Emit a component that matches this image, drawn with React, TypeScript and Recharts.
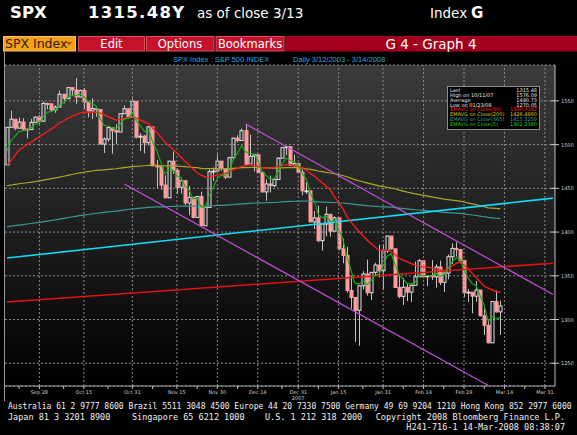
import React from "react";
import {
  ComposedChart,
  Bar,
  Line,
  XAxis,
  YAxis,
  CartesianGrid,
  ReferenceLine,
} from "recharts";

// trading days shown on the axis (last 13 are empty future slots)
const dates = [
  "9/18", "9/19", "9/20", "9/21", "9/24", "9/25", "9/26", "9/27", "9/28",
  "10/1", "10/2", "10/3", "10/4", "10/5", "10/8", "10/9", "10/10", "10/11", "10/12",
  "10/15", "10/16", "10/17", "10/18", "10/19", "10/22", "10/23", "10/24", "10/25", "10/26",
  "10/29", "10/30", "10/31",
  "11/1", "11/2", "11/5", "11/6", "11/7", "11/8", "11/9", "11/12", "11/13", "11/14", "11/15", "11/16",
  "11/19", "11/20", "11/21", "11/23", "11/26", "11/27", "11/28", "11/29", "11/30",
  "12/3", "12/4", "12/5", "12/6", "12/7", "12/10", "12/11", "12/12", "12/13", "12/14",
  "12/17", "12/18", "12/19", "12/20", "12/21", "12/24", "12/26", "12/27", "12/28", "12/31",
  "1/2", "1/3", "1/4", "1/7", "1/8", "1/9", "1/10", "1/11", "1/14", "1/15", "1/16", "1/17", "1/18",
  "1/22", "1/23", "1/24", "1/25", "1/28", "1/29", "1/30", "1/31",
  "2/1", "2/4", "2/5", "2/6", "2/7", "2/8", "2/11", "2/12", "2/13", "2/14", "2/15",
  "2/19", "2/20", "2/21", "2/22", "2/25", "2/26", "2/27", "2/28", "2/29",
  "3/3", "3/4", "3/5", "3/6", "3/7", "3/10", "3/11", "3/12", "3/13",
  "3/14", "3/17", "3/18", "3/19", "3/20", "3/24", "3/25", "3/26", "3/27", "3/28", "3/31", "4/1", "4/2",
];

const open = [
  1476.65, 1519.78, 1529.03, 1518.75, 1525.75, 1517.73, 1517.21, 1525.42, 1531.38,
  1526.75, 1547.04, 1546.63, 1539.59, 1542.84, 1557.59, 1552.58, 1565.15, 1562.47, 1554.41,
  1561.80, 1548.71, 1538.53, 1541.24, 1540.08, 1500.63, 1506.33, 1519.59, 1515.88, 1514.40,
  1535.28, 1540.98, 1531.02,
  1549.38, 1508.44, 1509.65, 1502.17, 1520.27, 1475.62, 1474.77, 1453.70, 1439.18, 1481.05, 1470.58, 1451.15,
  1458.74, 1433.27, 1439.70, 1416.77, 1440.70, 1407.22, 1428.23, 1469.02, 1469.72,
  1481.14, 1472.42, 1462.79, 1485.01, 1507.34, 1504.66, 1515.96, 1477.65, 1486.59, 1488.41,
  1467.95, 1445.90, 1454.98, 1453.00, 1460.12, 1484.46, 1496.45, 1497.66, 1476.27, 1478.49,
  1468.36, 1447.16, 1447.16, 1411.63, 1416.18, 1390.19, 1409.13, 1420.33, 1401.02, 1416.25, 1380.95, 1373.20, 1333.25,
  1325.19, 1310.50, 1338.60, 1352.07, 1330.61, 1353.96, 1362.30, 1355.81,
  1378.55, 1395.42, 1380.82, 1336.64, 1326.45, 1336.91, 1331.29, 1339.13, 1348.86, 1367.21, 1348.86,
  1349.99, 1348.78, 1360.03, 1342.53, 1353.11, 1371.80, 1381.29, 1380.02, 1367.68,
  1330.63, 1331.34, 1326.75, 1333.70, 1304.34, 1293.37, 1273.37, 1320.65, 1308.77,
];

const high = [
  1520.0, 1538.74, 1529.14, 1530.89, 1530.18, 1518.27, 1529.39, 1532.46, 1533.74,
  1549.02, 1548.01, 1544.8, 1544.78, 1561.91, 1557.59, 1565.26, 1565.42, 1576.09, 1563.03,
  1564.74, 1548.7, 1552.76, 1541.69, 1540.08, 1508.06, 1520.01, 1519.59, 1523.24, 1535.53,
  1544.67, 1540.98, 1552.76,
  1549.38, 1513.15, 1510.84, 1521.19, 1520.27, 1482.5, 1474.77, 1464.94, 1481.37, 1492.14, 1472.72, 1462.18,
  1458.74, 1452.64, 1439.7, 1440.86, 1446.09, 1429.49, 1471.61, 1473.85, 1488.94,
  1481.16, 1472.42, 1486.09, 1508.02, 1510.63, 1518.27, 1523.57, 1511.4, 1489.4, 1488.41,
  1467.95, 1460.16, 1464.42, 1461.19, 1485.4, 1497.32, 1498.85, 1497.66, 1488.3, 1478.49,
  1471.77, 1456.8, 1447.16, 1423.87, 1430.28, 1409.19, 1429.09, 1420.33, 1417.89, 1416.25, 1391.99, 1383.18, 1350.28,
  1322.09, 1339.09, 1355.15, 1368.56, 1353.97, 1364.93, 1385.62, 1385.86,
  1396.02, 1395.42, 1380.82, 1351.95, 1347.31, 1341.22, 1341.4, 1366.21, 1369.23, 1368.16, 1350.0,
  1367.94, 1363.16, 1367.4, 1354.74, 1374.36, 1387.34, 1388.34, 1380.02, 1367.68,
  1335.13, 1331.34, 1344.19, 1333.7, 1312.59, 1300.16, 1320.65, 1333.26, 1321.68,
];

const low = [
  1476.65, 1519.78, 1516.42, 1518.75, 1516.15, 1507.13, 1517.2, 1525.4, 1521.99,
  1526.75, 1540.37, 1537.63, 1536.34, 1542.84, 1547.2, 1551.82, 1555.46, 1546.72, 1554.09,
  1540.81, 1531.3, 1529.4, 1531.76, 1500.26, 1490.4, 1503.61, 1489.56, 1500.46, 1514.4,
  1535.28, 1529.6, 1531.0,
  1507.09, 1492.53, 1489.95, 1499.07, 1475.61, 1450.31, 1448.51, 1438.53, 1439.18, 1466.47, 1443.49, 1443.99,
  1430.54, 1419.28, 1415.46, 1416.77, 1406.1, 1407.22, 1428.23, 1458.36, 1469.72,
  1470.08, 1460.66, 1462.79, 1482.19, 1502.66, 1504.66, 1475.99, 1477.65, 1469.21, 1467.44,
  1445.07, 1435.65, 1445.31, 1451.41, 1460.12, 1484.46, 1488.2, 1475.99, 1473.29, 1467.99,
  1442.07, 1443.73, 1411.19, 1403.45, 1388.3, 1378.7, 1395.31, 1394.83, 1401.02, 1379.01, 1364.27, 1330.7, 1312.51,
  1274.29, 1270.05, 1334.31, 1327.5, 1322.26, 1350.3, 1348.12, 1334.08,
  1375.98, 1379.69, 1336.64, 1324.34, 1316.75, 1321.06, 1320.32, 1339.13, 1348.86, 1347.31, 1338.13,
  1345.2, 1336.55, 1339.34, 1331.5, 1346.03, 1363.29, 1372.0, 1364.27, 1325.42,
  1320.04, 1307.04, 1320.22, 1303.34, 1282.14, 1272.66, 1273.37, 1307.86, 1282.43,
];

const close = [
  1519.78, 1529.03, 1518.75, 1525.75, 1517.73, 1517.21, 1525.42, 1531.38, 1526.75,
  1547.04, 1546.63, 1539.59, 1542.84, 1557.59, 1552.58, 1565.15, 1562.47, 1554.41, 1561.80,
  1548.71, 1538.53, 1541.24, 1540.08, 1500.63, 1506.33, 1519.59, 1515.88, 1514.40, 1535.28,
  1540.98, 1531.02, 1549.38,
  1508.44, 1509.65, 1502.17, 1520.27, 1475.62, 1474.77, 1453.70, 1439.18, 1481.05, 1470.58, 1451.15, 1458.74,
  1433.27, 1439.70, 1416.77, 1440.70, 1407.22, 1428.23, 1469.02, 1469.72, 1481.14,
  1472.42, 1462.79, 1485.01, 1507.34, 1504.66, 1515.96, 1477.65, 1486.59, 1488.41, 1467.95,
  1445.90, 1454.98, 1453.00, 1460.12, 1484.46, 1496.45, 1497.66, 1476.27, 1478.49, 1468.36,
  1447.16, 1447.16, 1411.63, 1416.18, 1390.19, 1409.13, 1420.33, 1401.02, 1416.25, 1380.95, 1373.20, 1333.25, 1325.19,
  1310.50, 1338.60, 1352.07, 1330.61, 1353.96, 1362.30, 1355.81, 1378.55,
  1395.42, 1380.82, 1336.64, 1326.45, 1336.91, 1331.29, 1339.13, 1348.86, 1367.21, 1348.86, 1349.99,
  1348.78, 1360.03, 1342.53, 1353.11, 1371.80, 1381.29, 1380.02, 1367.68, 1330.63,
  1331.34, 1326.75, 1333.70, 1304.34, 1293.37, 1273.37, 1320.65, 1308.77, 1315.48,
];

const ema5 = [
  1493.0, 1505.0, 1509.6, 1515.0, 1515.9, 1516.3, 1519.3, 1523.3, 1524.5,
  1532.0, 1536.9, 1537.8, 1539.5, 1545.5, 1547.9, 1553.7, 1556.6, 1555.9, 1557.9,
  1554.8, 1549.4, 1546.7, 1544.5, 1529.9, 1522.0, 1521.2, 1519.4, 1517.7, 1523.6,
  1529.4, 1529.9, 1536.4,
  1527.1, 1521.3, 1514.9, 1516.7, 1503.0, 1493.6, 1480.3, 1466.6, 1471.4, 1471.1, 1464.4, 1462.5,
  1452.8, 1448.4, 1437.9, 1438.8, 1428.3, 1428.3, 1441.9, 1451.2, 1461.2,
  1464.9, 1464.2, 1471.1, 1483.2, 1490.4, 1498.9, 1491.8, 1490.1, 1489.5, 1482.3,
  1470.2, 1465.1, 1461.1, 1460.8, 1468.7, 1477.9, 1484.5, 1481.8, 1480.7, 1476.6,
  1466.8, 1460.3, 1444.1, 1434.8, 1419.9, 1416.3, 1417.6, 1412.1, 1413.5, 1402.6, 1392.8, 1372.9, 1357.0,
  1341.5, 1340.5, 1344.4, 1339.8, 1344.5, 1350.4, 1352.2, 1361.0,
  1372.5, 1375.3, 1362.4, 1350.4, 1345.9, 1341.0, 1340.4, 1343.2, 1351.2, 1350.4, 1350.3,
  1349.8, 1353.2, 1349.6, 1350.8, 1357.8, 1365.6, 1370.4, 1369.5, 1356.5,
  1348.1, 1341.0, 1338.6, 1327.2, 1315.9, 1298.0, 1303.0, 1301.0, 1302.3,
];

const ema30 = [
  1476, 1482, 1488, 1494, 1497, 1500, 1503, 1506, 1509,
  1512, 1515, 1518, 1521, 1525, 1527, 1530, 1532, 1534, 1536,
  1537, 1537, 1537, 1537, 1536, 1534, 1532, 1530, 1528, 1529,
  1530, 1531, 1532,
  1530, 1528, 1526, 1524, 1519, 1514, 1509, 1503, 1499, 1495, 1490, 1486,
  1481, 1477, 1472, 1468, 1465, 1463, 1463, 1464, 1465,
  1466, 1467, 1469, 1471, 1473, 1475, 1476, 1477, 1476, 1475,
  1474, 1473, 1473, 1474, 1475, 1476, 1477, 1477, 1476, 1475,
  1473, 1471, 1467, 1464, 1460, 1456, 1452, 1448, 1440, 1434, 1427, 1418, 1412,
  1406, 1401, 1396, 1391, 1387, 1383, 1379, 1379,
  1379, 1378, 1374, 1370, 1368, 1366, 1364, 1362, 1361, 1360, 1360,
  1359, 1358, 1357, 1356, 1358, 1361, 1364, 1366, 1362,
  1358, 1353, 1348, 1343, 1338, 1336, 1334, 1332, 1331,
];

const ema200 = [
  1453.0, 1453.8, 1454.5, 1455.2, 1455.8, 1456.4, 1457.1, 1457.8, 1458.5,
  1459.4, 1460.3, 1461.1, 1461.9, 1462.9, 1463.8, 1464.8, 1465.8, 1466.7, 1467.6,
  1468.4, 1469.1, 1469.8, 1470.5, 1470.8, 1471.2, 1471.6, 1472.0, 1472.4, 1473.0,
  1473.7, 1474.2, 1474.9,
  1475.2, 1475.5, 1475.8, 1476.2, 1476.2, 1476.2, 1476.0, 1475.6, 1475.7, 1475.6, 1475.4, 1475.2,
  1474.8, 1474.4, 1473.9, 1473.6, 1472.9, 1472.5, 1472.5, 1472.5, 1472.6,
  1472.6, 1472.5, 1472.6, 1472.9, 1473.2, 1473.6, 1473.7, 1473.8, 1474.0, 1473.9,
  1473.6, 1473.4, 1473.2, 1473.1, 1473.2, 1473.4, 1473.7, 1473.7, 1473.8, 1473.7,
  1473.0, 1472.4, 1471.6, 1470.8, 1469.8, 1469.0, 1468.3, 1467.5, 1466.8, 1465.8, 1464.7, 1463.2, 1461.6,
  1460.0, 1458.7, 1457.5, 1456.2, 1455.0, 1453.9, 1452.8, 1451.9,
  1451.2, 1450.4, 1449.2, 1447.9, 1446.8, 1445.6, 1444.6, 1443.6, 1442.9, 1442.0, 1441.1,
  1440.2, 1439.4, 1438.5, 1437.6, 1437.0, 1436.5, 1436.0, 1435.4, 1434.4,
  1433.4, 1432.3, 1431.3, 1430.1, 1428.9, 1427.5, 1427.4, 1427.0, 1426.5,
];

const ema365 = [
  1406.0, 1406.7, 1407.3, 1408.0, 1408.6, 1409.2, 1409.8, 1410.5, 1411.1,
  1411.9, 1412.6, 1413.3, 1414.0, 1414.8, 1415.6, 1416.4, 1417.2, 1417.9, 1418.7,
  1419.4, 1420.1, 1420.8, 1421.5, 1421.9, 1422.4, 1423.0, 1423.5, 1424.0, 1424.6,
  1425.3, 1425.8, 1426.4,
  1426.9, 1427.3, 1427.7, 1428.2, 1428.5, 1428.7, 1428.8, 1428.9, 1429.2, 1429.4, 1429.5, 1429.7,
  1429.7, 1429.8, 1429.7, 1429.8, 1429.7, 1429.7, 1429.9, 1430.1, 1430.4,
  1430.6, 1430.8, 1431.1, 1431.5, 1431.9, 1432.3, 1432.6, 1432.9, 1433.2, 1433.4,
  1433.4, 1433.5, 1433.6, 1433.8, 1434.1, 1434.4, 1434.8, 1435.0, 1435.2, 1435.4,
  1435.5, 1435.4, 1435.2, 1434.9, 1434.6, 1434.3, 1434.2, 1433.9, 1433.8, 1433.5, 1433.2, 1432.7, 1432.2,
  1431.6, 1431.1, 1430.7, 1430.2, 1429.8, 1429.4, 1429.0, 1428.8,
  1428.7, 1428.4, 1427.9, 1427.4, 1426.9, 1426.4, 1426.0, 1425.5, 1425.2, 1424.8, 1424.3,
  1423.9, 1423.5, 1423.0, 1422.6, 1422.3, 1422.0, 1421.7, 1421.3, 1420.7,
  1420.1, 1419.5, 1418.9, 1418.2, 1417.5, 1416.7, 1416.2, 1415.8, 1415.3,
];

// hand drawn trend lines (endpoints)
const cyanTrend = [{ d: "9/18", v: 1370.3 }, { d: "4/2", v: 1438.8 }];
const redTrend = [{ d: "9/18", v: 1320.0 }, { d: "4/2", v: 1364.4 }];
const upperChannel = [{ d: "12/11", v: 1523.6 }, { d: "4/2", v: 1328.6 }];
const lowerChannel = [{ d: "10/29", v: 1455.0 }, { d: "3/10", v: 1224.5 }];

const yTicks = [1250, 1300, 1350, 1400, 1450, 1500, 1550];
const majorDates = ["9/28", "10/15", "10/31", "11/15", "11/30", "12/14", "12/31", "1/15", "1/31", "2/14", "2/29", "3/14", "3/31"];
const majorLabels = ["Sep 28", "Oct 15", "Oct 31", "Nov 15", "Nov 30", "Dec 14", "Dec 31", "Jan 15", "Jan 31", "Feb 14", "Feb 29", "Mar 14", "Mar 31"];
const minorDates = ["9/21", "10/8", "10/23", "11/7", "11/23", "12/7", "12/24", "1/8", "1/24", "2/7", "2/22", "3/7", "3/24"];

const statLabels = [
  "Last",
  "High on 10/11/07",
  "Average",
  "Low on 01/23/08",
  "EMAVG on Close(30)",
  "EMAVG on Close(200)",
  "EMAVG on Close(365)",
  "EMAVG on Close(5)",
];
const statValues = ["1315.48", "1576.09", "1440.73", "1270.05", "1330.3382", "1426.4860", "1415.3259", "1302.3380"];
const statColors = ["#e6e6e6", "#e6e6e6", "#e6e6e6", "#e6e6e6", "#ff2020", "#d6d21c", "#3f9f9f", "#1fd21f"];

const footer1 = "Australia 61 2 9777 8600 Brazil 5511 3048 4500 Europe 44 20 7330 7500 Germany 49 69 9204 1210 Hong Kong 852 2977 6000";

const rows = dates.map((d, i) => ({
  d,
  o: open[i],
  h: high[i],
  l: low[i],
  c: close[i],
  e5: ema5[i],
  e30: ema30[i],
  e200: ema200[i],
  e365: ema365[i],
}));

const Candle = (props: any) => {
  const { x, y, width, height, payload } = props;
  if (!payload || payload.h == null) return null;
  const { o, h, l, c } = payload;
  const top = Math.min(y, y + height);
  const span = Math.abs(height);
  const k = h === l ? 0 : span / (h - l);
  const cx = Math.round(x + width / 2) + 0.5;
  const yo = top + (h - o) * k;
  const yc = top + (h - c) * k;
  const bTop = Math.min(yo, yc);
  const bBot = Math.max(yo, yc, bTop + 1);
  const up = c >= o;
  return (
    <g>
      <line x1={cx} x2={cx} y1={top} y2={bTop} stroke="#c4c4c4" strokeWidth={1} />
      <line x1={cx} x2={cx} y1={bBot} y2={top + span} stroke="#c4c4c4" strokeWidth={1} />
      <rect
        x={cx - 1.5}
        y={bTop}
        width={3}
        height={bBot - bTop}
        fill={up ? "none" : "#ff9c9c"}
        stroke={up ? "#e4e4e4" : "#ff9c9c"}
        strokeWidth={1}
      />
    </g>
  );
};

const XTick = (props: any) => {
  const { x, y, payload } = props;
  const i = majorDates.indexOf(payload.value);
  if (i < 0) {
    return <line x1={x} x2={x} y1={y} y2={y + 3} stroke="#bdbdbd" />;
  }
  return (
    <g>
      <line x1={x} x2={x} y1={y} y2={y + 3} stroke="#bdbdbd" />
      <text x={x} y={y + 8} textAnchor="middle" fontSize={5} fill="#d0d0d0" fontFamily="DejaVu Sans">
        {majorLabels[i]}
      </text>
      {payload.value === "12/31" && (
        <text x={x} y={y + 14} textAnchor="middle" fontSize={5} fill="#d0d0d0" fontFamily="DejaVu Sans">
          2007
        </text>
      )}
    </g>
  );
};

const YTick = (props: any) => {
  const { x, y, payload } = props;
  return (
    <g>
      <line x1={x - 10} x2={x - 2} y1={y} y2={y} stroke="#c8c8c8" />
      <text x={x} y={y + 2} fontSize={5} fill="#d0d0d0" fontFamily="DejaVu Sans">
        {payload.value}
      </text>
    </g>
  );
};

const grid = "#8a8a8a";

export default function App() {
  return (
    <div style={{ position: "absolute", left: 0, top: 0, width: 577, height: 435, background: "#000", overflow: "hidden" }}>
      <div
        style={{
          position: "absolute",
          left: 5,
          top: 65,
          width: 550,
          height: 321,
          background: "linear-gradient(#3b3b3b, #1c1c1c 55%, #000)",
        }}
      />
      <div style={{ position: "absolute", left: 0, top: 0 }}>
        <ComposedChart width={577} height={435} data={rows} margin={{ top: 65, right: 0, bottom: 0, left: 5 }}>
          <CartesianGrid vertical={false} stroke={grid} strokeDasharray="2 2" />
          {majorDates.map((d) => (
            <ReferenceLine key={d} x={d} stroke={grid} strokeDasharray="2 2" />
          ))}
          <XAxis
            dataKey="d"
            height={49}
            ticks={[...majorDates, ...minorDates]}
            interval={0}
            tick={<XTick />}
            tickLine={false}
            tickSize={0}
            tickMargin={0}
            axisLine={{ stroke: "#a0a0a0" }}
          />
          <YAxis
            orientation="right"
            width={22}
            domain={[1224, 1591]}
            ticks={yTicks}
            allowDataOverflow
            tick={<YTick />}
            tickLine={false}
            tickSize={6}
            tickMargin={0}
            axisLine={{ stroke: "#c0c0c0" }}
          />
          <Line dataKey="e365" stroke="#3c9696" strokeWidth={1.2} dot={false} isAnimationActive={false} />
          <Line dataKey="e200" stroke="#aaa82a" strokeWidth={1.2} dot={false} isAnimationActive={false} />
          <ReferenceLine
            segment={[{ x: cyanTrend[0].d, y: cyanTrend[0].v }, { x: cyanTrend[1].d, y: cyanTrend[1].v }]}
            stroke="#12dcf2"
            strokeWidth={1.6}
            ifOverflow="visible"
          />
          <ReferenceLine
            segment={[{ x: redTrend[0].d, y: redTrend[0].v }, { x: redTrend[1].d, y: redTrend[1].v }]}
            stroke="#e01414"
            strokeWidth={1.6}
            ifOverflow="visible"
          />
          <ReferenceLine
            segment={[{ x: upperChannel[0].d, y: upperChannel[0].v }, { x: upperChannel[1].d, y: upperChannel[1].v }]}
            stroke="#c64fdc"
            strokeWidth={1.2}
            ifOverflow="visible"
          />
          <ReferenceLine
            segment={[{ x: lowerChannel[0].d, y: lowerChannel[0].v }, { x: lowerChannel[1].d, y: lowerChannel[1].v }]}
            stroke="#c64fdc"
            strokeWidth={1.2}
            ifOverflow="visible"
          />
          <Bar
            dataKey={(r: any) => (r.h != null ? [r.l, r.h] : null)}
            shape={<Candle />}
            isAnimationActive={false}
          />
          <Line dataKey="e30" stroke="#ff1c1c" strokeWidth={1.3} dot={false} isAnimationActive={false} />
          <Line dataKey="e5" stroke="#12b412" strokeWidth={1.1} dot={false} isAnimationActive={false} />
        </ComposedChart>
      </div>

      <svg width={577} height={435} style={{ position: "absolute", left: 0, top: 0, pointerEvents: "none" }}>
        {/* header */}
        <text x={10} y={18} fill="#fff" fontFamily="DejaVu Sans" fontWeight="bold" fontSize={16.5}>SPX</text>
        <text x={88} y={18} fill="#fff" fontFamily="DejaVu Sans" fontWeight="bold" fontSize={16.5} letterSpacing={1.3}>1315.48Y</text>
        <text x={197} y={18} fill="#fff" fontFamily="DejaVu Sans" fontSize={13.5}>as of close  3/13</text>
        <text x={430} y={18} fill="#fff" fontFamily="DejaVu Sans" fontSize={13.5}>Index</text>
        <text x={471} y={18} fill="#fff" fontFamily="DejaVu Sans" fontWeight="bold" fontSize={15}>G</text>

        {/* toolbar */}
        <rect x={3.5} y={36.5} width={72} height={14.5} fill="#f4a11a" stroke="#ffc060" />
        <text x={5} y={48} fill="#2a1a00" fontFamily="DejaVu Sans" fontSize={12.5}>SPX Index</text>
        <path d="M66 42 L72 42 L69 45.5 Z" fill="#c04000" />
        <rect x={78.5} y={36.5} width={66} height={14.5} fill="#c4122c" stroke="#e04a5c" />
        <text x={111.5} y={47.5} textAnchor="middle" fill="#fff" fontFamily="DejaVu Sans" fontSize={11.5}>Edit</text>
        <rect x={146.5} y={36.5} width={67.5} height={14.5} fill="#c4122c" stroke="#e04a5c" />
        <text x={180} y={47.5} textAnchor="middle" fill="#fff" fontFamily="DejaVu Sans" fontSize={11.5}>Options</text>
        <rect x={216} y={36.5} width={68} height={14.5} fill="#c4122c" stroke="#e04a5c" />
        <text x={250} y={47.5} textAnchor="middle" fill="#fff" fontFamily="DejaVu Sans" fontSize={11.5}>Bookmarks</text>
        <rect x={285} y={36} width={292} height={15.5} fill="#a3001e" />
        <text x={431} y={48.5} textAnchor="middle" fill="#fff" fontFamily="DejaVu Sans" fontSize={13.5}>G 4 - Graph 4</text>

        {/* subtitle */}
        <text x={173} y={61.5} fill="#2fa8dc" fontFamily="Liberation Sans" fontSize={7.5}>SPX Index : S&amp;P 500 INDEX</text>
        <text x={293} y={61.5} fill="#2fa8dc" fontFamily="Liberation Sans" fontSize={7.5}>Daily  3/12/2003 - 3/14/2008</text>

        {/* frame */}
        <line x1={4.5} x2={4.5} y1={52} y2={401} stroke="#9a9a9a" />

        {/* stats box */}
        <rect x={447.5} y={86.5} width={92} height={43} fill="#000" stroke="#a8a8a8" strokeWidth={0.8} />
        {statLabels.map((s, i) => (
          <g key={s}>
            <text x={450} y={91.8 + i * 4.9} fontSize={5} fill={statColors[i]} fontFamily="DejaVu Sans">{s}</text>
            <text x={537} y={91.8 + i * 4.9} fontSize={5} fill={statColors[i]} textAnchor="end" fontFamily="DejaVu Sans">{statValues[i]}</text>
          </g>
        ))}

        {/* footer */}
        <text x={8} y={409} fill="#f2f2f2" fontFamily="DejaVu Sans Mono" fontSize={8}>{footer1}</text>
        <text x={8} y={419.5} fill="#f2f2f2" fontFamily="DejaVu Sans Mono" fontSize={8.5}>Japan 81 3 3201 8900</text>
        <text x={132} y={419.5} fill="#f2f2f2" fontFamily="DejaVu Sans Mono" fontSize={8.5}>Singapore 65 6212 1000</text>
        <text x={265} y={419.5} fill="#f2f2f2" fontFamily="DejaVu Sans Mono" fontSize={8.5}>U.S. 1 212 318 2000</text>
        <text x={565} y={419.5} fill="#f2f2f2" fontFamily="DejaVu Sans Mono" fontSize={8.5} textAnchor="end">Copyright 2008 Bloomberg Finance L.P.</text>
        <text x={565} y={430} fill="#f2f2f2" fontFamily="DejaVu Sans Mono" fontSize={8.5} textAnchor="end">H241-716-1 14-Mar-2008 08:38:07</text>
      </svg>
    </div>
  );
}
